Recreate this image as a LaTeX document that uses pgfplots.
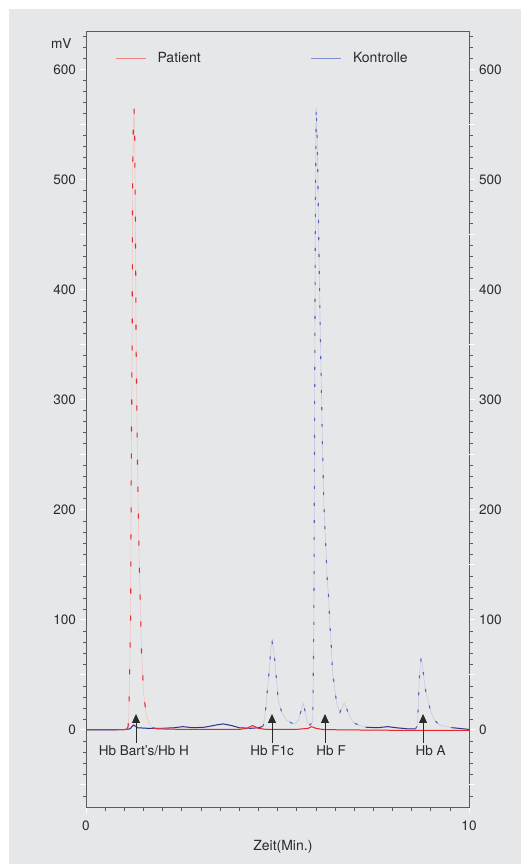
\documentclass[border=0pt]{standalone}
\usepackage{pgfplots}
\pgfplotsset{compat=1.18}
\usepackage{pgfplotstable}
\usepackage{fontspec}
\setmainfont{TeX Gyre Heros}
\usetikzlibrary{arrows.meta}
\definecolor{bg}{HTML}{E6E7E9}
\definecolor{axisgray}{HTML}{5A5A5A}
\definecolor{txt}{HTML}{2B2B2B}
\definecolor{reddark}{HTML}{E8262B}
\definecolor{redpale}{HTML}{EEC6C6}
\definecolor{redleg}{HTML}{F08484}
\definecolor{bluedark}{HTML}{2E3192}
\definecolor{bluemid}{HTML}{5566BB}
\definecolor{bluepale}{HTML}{C6CADF}
\definecolor{blueleg}{HTML}{7F8DCF}

\pgfplotstableread{
t v
0 0.3
0.5 0.3
1.0 0.3
1.05 0.6
1.08 1.5
1.10 3
1.105 6
1.12 18
1.13 35
1.15 70
1.165 105
1.18 228
1.205 355
1.218 510
1.24 555
1.255 565
1.27 545
1.29 460
1.31 343
1.34 253
1.37 188
1.40 137
1.43 99
1.45 71
1.48 52
1.50 34
1.54 23
1.58 12
1.67 4.5
1.75 2
1.85 1
2.5 0.5
3.0 0.5
4.0 0.5
4.2 1.5
4.35 4
4.5 1.5
4.7 0.5
5.5 0.5
5.8 1.5
5.89 3
6.0 1.5
6.2 0.3
7.0 0
8.0 -0.3
9.0 -0.3
10.0 -0.5
}\patient

\pgfplotstableread{
t v
0 0
0.5 0
1.0 0.3
1.15 1
1.24 4.5
1.35 2
1.6 1.5
2.0 1.5
2.3 2
2.53 3
2.8 2
3.1 2.5
3.4 4.5
3.58 5.5
3.8 4
4.0 2
4.3 1.5
4.5 2
4.6 3
4.63 4
4.68 15
4.72 30
4.76 45
4.79 57
4.83 75
4.86 80
4.90 73
4.95 55
5.02 27
5.11 16
5.24 9
5.35 6.5
5.46 5.5
5.55 9
5.62 18
5.67 24.5
5.72 17
5.78 7
5.85 4.5
5.92 7.5
5.95 100
5.97 300
5.99 480
6.01 565
6.03 545
6.05 509
6.08 439
6.11 375
6.14 318
6.17 265
6.19 236
6.21 206
6.24 182
6.27 161
6.29 141
6.34 118
6.36 100
6.40 79
6.44 52
6.50 36
6.55 23
6.63 16
6.68 20
6.74 24.5
6.79 21
6.85 15
6.95 8
7.02 6
7.15 4
7.3 2.5
7.6 2
7.88 3
8.1 2
8.4 1
8.6 1
8.64 3
8.66 8
8.70 45
8.73 60
8.75 65
8.78 60
8.83 45
8.88 33
8.94 25
9.0 17
9.07 11
9.15 7
9.24 4.5
9.4 3
9.58 2
10 0.5
}\kontrolle

\pgfplotsset{
  common/.style={
    at={(86pt,57pt)}, anchor=south west,
    width=383pt, height=776pt, scale only axis,
    xmin=0, xmax=10, ymin=-70, ymax=635,
    tick align=outside,
    axis line style={axisgray, line width=0.9pt},
    tick style={axisgray, line width=0.6pt},
    major tick style={white, line width=1pt},
    major tick length=6pt, minor tick length=3.5pt,
    ytick={0,100,...,600},
    minor ytick={-60,-40,-30,-20,-10,10,20,30,40,60,70,80,90,110,120,130,140,160,170,180,190,210,220,230,240,260,270,280,290,310,320,330,340,360,370,380,390,410,420,430,440,460,470,480,490,510,520,530,540,560,570,580,590,610,620,630},
    extra y ticks={-50,50,150,250,350,450,550},
    extra y tick labels={},
    extra y tick style={tick style={axisgray, line width=0.6pt}, major tick length=6pt},
    ticklabel style={font=\fontsize{13.6}{16}\selectfont, text=txt},
    /pgf/number format/assume math mode=true,
  }
}

\begin{document}
\begin{tikzpicture}[x=1pt,y=1pt]
\fill[white] (0,0) rectangle (521,864);
\fill[bg] (9,0) rectangle (521,855);

\begin{axis}[common,
  ytick pos=left, xtick pos=lower,
  xtick={0,10},
  minor xtick={0.5,1,...,9.5},
  xticklabel style={yshift=-4pt},
  yticklabel style={xshift=-0.5pt},
  legend columns=2,
  legend style={at={(rel axis cs:0.068,0.965)}, anchor=west, draw=none, fill=none,
    font=\fontsize{14}{16}\selectfont, text=txt,
    nodes={inner sep=0pt},
    /tikz/every odd column/.append style={column sep=11pt},
    /tikz/every even column/.append style={column sep=110pt}},
  legend image code/.code={\draw[line width=1.3pt,#1] (0pt,0pt) -- (30pt,0pt);},
  clip=false,
]
\addlegendimage{redleg}
\addlegendentry{Patient}
\addlegendimage{blueleg}
\addlegendentry{Kontrolle}

% Kontrolle
\addplot[bluepale, line width=0.6pt, forget plot] table {\kontrolle};
\addplot[bluedark, line width=1pt, forget plot, restrict x to domain=0:4.6] table {\kontrolle};
\addplot[bluedark, line width=1pt, forget plot, restrict x to domain=7.3:8.6] table {\kontrolle};
\addplot[bluedark, line width=1pt, forget plot, restrict x to domain=9.58:10] table {\kontrolle};
\addplot[bluemid, line width=1.1pt, dash pattern=on 3pt off 14pt, forget plot, restrict x to domain=4.6:7.3] table {\kontrolle};
\addplot[bluemid, line width=1.1pt, dash pattern=on 3pt off 14pt, forget plot, restrict x to domain=8.6:9.58] table {\kontrolle};

% Patient
\addplot[redpale, line width=0.6pt, forget plot] table {\patient};
\addplot[reddark, line width=1pt, forget plot, restrict x to domain=0:1.08] table {\patient};
\addplot[reddark, line width=1pt, forget plot, restrict x to domain=1.85:10] table {\patient};
\addplot[reddark, line width=1.1pt, dash pattern=on 5pt off 22pt, forget plot, restrict x to domain=1.08:1.85] table {\patient};

% annotations
\draw[-{Triangle[width=8pt,length=9pt]}, line width=0.9pt, color=txt] (axis cs:1.305,-12) -- (axis cs:1.305,14.5);
\draw[-{Triangle[width=8pt,length=9pt]}, line width=0.9pt, color=txt] (axis cs:4.856,-12) -- (axis cs:4.856,14.5);
\draw[-{Triangle[width=8pt,length=9pt]}, line width=0.9pt, color=txt] (axis cs:6.24,-12) -- (axis cs:6.24,14.5);
\draw[-{Triangle[width=8pt,length=9pt]}, line width=0.9pt, color=txt] (axis cs:8.80,-12) -- (axis cs:8.80,14.5);
\node[anchor=base, font=\fontsize{13.5}{16}\selectfont, text=txt] at (axis cs:1.51,-23.6) {Hb Bart’s/Hb H};
\node[anchor=base, font=\fontsize{13.5}{16}\selectfont, text=txt] at (axis cs:4.86,-23.6) {Hb F1c};
\node[anchor=base, font=\fontsize{13.5}{16}\selectfont, text=txt] at (axis cs:6.40,-23.6) {Hb F};
\node[anchor=base, font=\fontsize{13.5}{16}\selectfont, text=txt] at (axis cs:9.0,-23.6) {Hb A};

\node[anchor=base east, font=\fontsize{13.6}{16}\selectfont, text=txt] at (rel axis cs:0,0.978) [xshift=-11pt] {mV};
\node[anchor=base, font=\fontsize{14}{16}\selectfont, text=txt] at (rel axis cs:0.514,0) [yshift=-43pt] {Zeit(Min.)};
\end{axis}

\begin{axis}[common,
  hide x axis,
  axis y line*=right,
  yticklabel style={xshift=0.5pt},
]
\end{axis}
\end{tikzpicture}
\end{document}
